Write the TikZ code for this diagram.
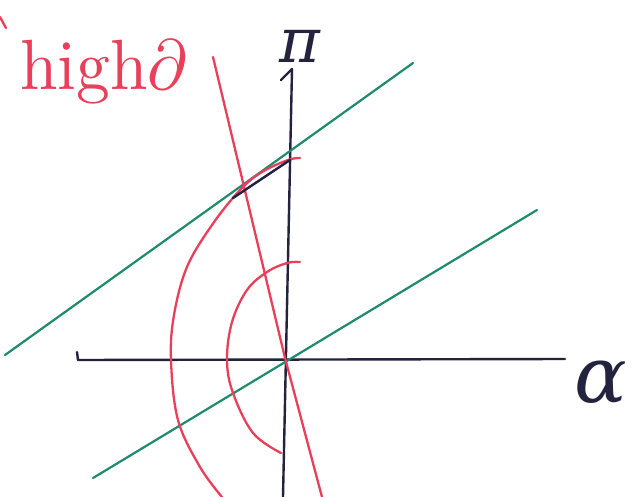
\documentclass[tikz,border=0pt]{standalone}
\usepackage{graphicx}
\usepackage{fontspec}
\newfontfamily\grk{DejaVu Serif}
\definecolor{penred}{HTML}{E8405A}
\definecolor{pengreen}{HTML}{1E8A6E}
\definecolor{penink}{HTML}{23233F}
\begin{document}
\begin{tikzpicture}[x=1pt,y=-1pt,line cap=round,line join=round,
  redpen/.style={draw=penred,line width=2.3pt},
  greenpen/.style={draw=pengreen,line width=2.2pt},
  inkpen/.style={draw=penink,line width=2.4pt}]
\useasboundingbox[fill=white] (0,0) rectangle (636,497);
% axes
\node[text=penink,inner sep=0pt,font=\grk\itshape\fontsize{62}{62}\selectfont] (ylab) at (300,46) {π};
\coordinate (ytop) at (292,69);
\draw[inkpen] (77,352) -- (78,360) -- (565,359);
\draw[inkpen] (283,497) -- (ytop);
\draw[inkpen] (281,80) -- (ytop);
\node[text=penink,inner sep=0pt,anchor=west,font=\grk\itshape\fontsize{78}{78}\selectfont] (xlab) at (574,382) {α};
% green lines
\draw[greenpen] (5,355) -- (413,63);
\draw[greenpen] (93,478) -- (537,210);
% red straight line
\draw[redpen] (213,57) -- (285,358) -- (322,497);
% red curves
\draw[redpen] plot[smooth,tension=0.6] coordinates {(300,158) (288,160) (262,172) (240,190) (212,225) (187,267) (174,315) (171,360) (178,420) (200,467) (222,497)};
\draw[penink,line width=2.4pt] (233,198) -- (290,160);
\draw[redpen] plot[smooth,tension=0.6] coordinates {(300,262) (287,263) (267,272) (247,290) (232,322) (227,360) (233,393) (253,433) (281,453)};
% label
\node[text=penred,inner sep=0pt,anchor=north west] (lab) at (20,40) {\resizebox*{167pt}{64pt}{high$\partial$}};
\draw[redpen] (0,17) -- (6,28);
\end{tikzpicture}
\end{document}
